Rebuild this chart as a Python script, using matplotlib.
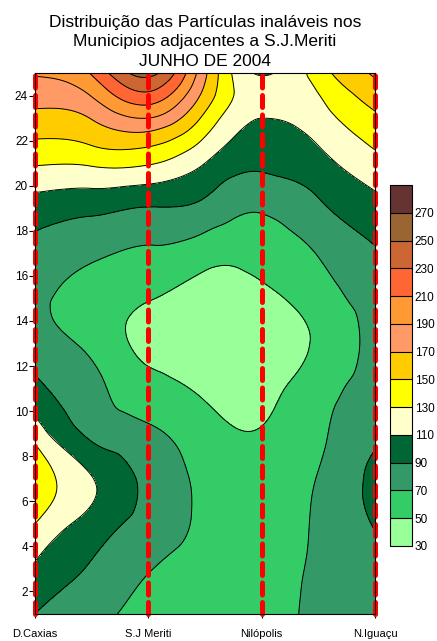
import numpy as np
import matplotlib
matplotlib.use("Agg")
import matplotlib.pyplot as plt
import matplotlib.tri as tri

plt.rcParams["font.family"] = ["Liberation Sans", "DejaVu Sans"]

# --- Dados (PM10 por hora, posicoes entre as estacoes) ---
stations = ["D.Caxias", "S.J Meriti", "Nilópolis", "N.Iguaçu"]
x_pos = [0.0, 0.5, 1.0, 1.5, 2.0, 2.5, 3.0]
hours = [1, 3, 5, 7, 9, 11, 13, 15, 17, 19, 21, 22, 23, 24, 25]

col_dcaxias = [90, 107, 130, 150, 122, 96, 78, 74, 84, 100, 132, 149, 164, 178, 192]
col_dc_sjm = [77, 88, 102, 111, 86, 76, 65, 62, 73, 95, 133, 154, 171, 191, 212]
col_sjmeriti = [62, 71, 82, 86, 74, 58, 45, 51, 67, 89, 132, 158, 190, 224, 256]
col_sjm_nil = [57, 63, 66, 64, 57, 47, 38, 42, 58, 84, 110, 127, 145, 163, 174]
col_nilopolis = [61, 61, 60, 57, 51, 45, 40, 45, 58, 72, 94, 102, 110, 115, 108]
col_nil_ni = [75, 74, 73, 71, 66, 61, 53, 60, 71, 86, 103, 112, 121, 129, 140]
col_niguacu = [80, 85, 91, 96, 86, 79, 76, 79, 88, 103, 123, 135, 146, 160, 173]

levels = list(range(30, 291, 20))
band_colors = ["#99FF99", "#33CC66", "#339966", "#006633", "#FFFFCC", "#FFFF00",
               "#FFCC00", "#FF9966", "#FF9933", "#FF6633", "#CC6633", "#996633",
               "#663333"]

# --- Grade e suavizacao (interpolador cubico do matplotlib) ---
cols = [col_dcaxias, col_dc_sjm, col_sjmeriti, col_sjm_nil,
        col_nilopolis, col_nil_ni, col_niguacu]
Z = np.array(cols).T
X, Y = np.meshgrid(x_pos, hours)
sx = 4.0  # escala so para a triangulacao ficar isotropica
tr = tri.Triangulation(X.ravel() * sx, Y.ravel())
refiner = tri.UniformTriRefiner(tr)
tr_ref, z_ref = refiner.refine_field(Z.ravel().astype(float), subdiv=4)
tr_plot = tri.Triangulation(tr_ref.x / sx, tr_ref.y, tr_ref.triangles)

# --- Figura ---
fig = plt.figure(figsize=(4.37, 6.41), dpi=100)
ax = fig.add_axes([35 / 437, 27 / 641, 340 / 437, 541 / 641])

cf = ax.tricontourf(tr_plot, z_ref, levels=levels, colors=band_colors)
ax.tricontour(tr_plot, z_ref, levels=levels, colors="black", linewidths=0.7)

for i in range(len(stations)):
    ax.axvline(i, ymin=0, ymax=1, color="#FF0000", lw=3.6,
               linestyle=(0, (2.4, 1.5)), dash_capstyle="round", clip_on=False)

ax.set_xlim(0, 3)
ax.set_ylim(1, 25)
ax.set_xticks(range(len(stations)))
ax.set_xticklabels(stations, fontsize=8)
ax.set_yticks(range(2, 25, 2))
ax.tick_params(axis="y", labelsize=8.5, length=4, width=0.8, pad=1)
ax.tick_params(axis="x", length=3, width=0.8, pad=8)
for sp in ax.spines.values():
    sp.set_linewidth(0.8)

ax.set_title("Distribuição das Partículas inaláveis nos\n"
             "Municipios adjacentes a S.J.Meriti\nJUNHO DE 2004",
             fontsize=12.5, linespacing=1.38, pad=5)

cax = fig.add_axes([390 / 437, 95 / 641, 22 / 437, 361 / 641])
cb = fig.colorbar(cf, cax=cax, drawedges=True)
cb.set_ticks(levels[:-1])
cb.ax.tick_params(length=0, labelsize=8.5, pad=2)
cb.outline.set_linewidth(0.8)
cb.dividers.set_linewidth(0.8)

fig.savefig("out.png", dpi=100)
